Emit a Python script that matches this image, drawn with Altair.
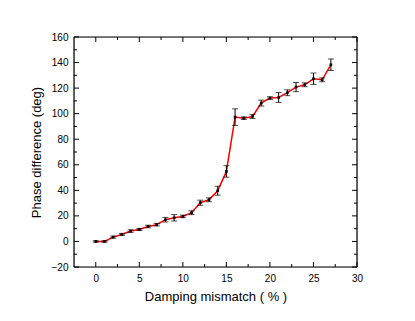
import altair as alt
import pandas as pd

# Data
mismatch = list(range(0, 28))
phase = [0, 0, 3.4, 5.5, 8.1, 9.4, 11.7, 13.1, 17.0, 18.5, 19.6, 22.5, 30.3, 32.6, 39.7, 54.8,
         97.3, 96.5, 97.8, 108.3, 112.2, 112.7, 116.4, 120.8, 122.6, 127.3, 126.5, 138.3]
err = [0.5, 0.5, 0.8, 0.8, 1.0, 0.8, 1.0, 1.0, 1.8, 2.5, 1.0, 1.5, 2.0, 1.5, 3.5, 4.5,
       6.5, 1.0, 1.5, 2.3, 1.0, 3.9, 2.3, 3.6, 1.5, 4.5, 1.5, 4.5]

x_major = [0, 5, 10, 15, 20, 25, 30]
x_minor = [2.5, 7.5, 12.5, 17.5, 22.5, 27.5]
y_major = [-20, 0, 20, 40, 60, 80, 100, 120, 140, 160]
y_minor = [-10, 10, 30, 50, 70, 90, 110, 130, 150]

W, H = 283, 230
FONT = "Liberation Sans"

df = pd.DataFrame({"x": mismatch, "y": phase, "e": err})
df["lo"] = df["y"] - df["e"]
df["hi"] = df["y"] + df["e"]

xs = alt.Scale(domain=[-2.5, 30], nice=False, zero=False)
ys = alt.Scale(domain=[-20, 160], nice=False, zero=False)

common = dict(tickSize=0, domain=False, grid=False, labelFontSize=10, labelPadding=6,
              titleFontSize=13, titleFontWeight="normal", labelFont=FONT, titleFont=FONT,
              labelColor="black", titleColor="black", labelOverlap=False, labelFlush=False)
xaxis = alt.Axis(values=x_major, title="Damping mismatch ( % )", titlePadding=7, **common)
yaxis = alt.Axis(values=y_major, title="Phase difference (deg)", titlePadding=8, **common)


def X(f):
    return alt.X(f, scale=xs, axis=xaxis)


def Y(f):
    return alt.Y(f, scale=ys, axis=yaxis)


base = alt.Chart(df)

line = base.mark_line(color="red", strokeWidth=1.5).encode(x=X("x:Q"), y=Y("y:Q"))
bars = base.mark_rule(color="black", strokeWidth=1).encode(x=X("x:Q"), y=Y("lo:Q"), y2="hi:Q")
cap_lo = base.mark_tick(color="black", thickness=1, size=6, orient="horizontal").encode(
    x=X("x:Q"), y=Y("lo:Q"))
cap_hi = base.mark_tick(color="black", thickness=1, size=6, orient="horizontal").encode(
    x=X("x:Q"), y=Y("hi:Q"))
pts = base.mark_square(color="black", size=7, opacity=1).encode(x=X("x:Q"), y=Y("y:Q"))


def xticks(vals, length):
    d = alt.Chart(pd.DataFrame({"v": vals}))
    b = d.mark_rule(color="black", strokeWidth=1).encode(
        x=X("v:Q"), y=alt.value(H), y2=alt.value(H - length))
    t = d.mark_rule(color="black", strokeWidth=1).encode(
        x=X("v:Q"), y=alt.value(0), y2=alt.value(length))
    return [b, t]


def yticks(vals, length):
    d = alt.Chart(pd.DataFrame({"v": vals}))
    l = d.mark_rule(color="black", strokeWidth=1).encode(
        y=Y("v:Q"), x=alt.value(0), x2=alt.value(length))
    r = d.mark_rule(color="black", strokeWidth=1).encode(
        y=Y("v:Q"), x=alt.value(W), x2=alt.value(W - length))
    return [l, r]


frame_src = alt.Chart(pd.DataFrame({"k": [0]}))
frame = [
    frame_src.mark_rule(color="black", strokeWidth=1.2).encode(x=alt.value(0), y=alt.value(0), y2=alt.value(H)),
    frame_src.mark_rule(color="black", strokeWidth=1.2).encode(x=alt.value(W), y=alt.value(0), y2=alt.value(H)),
    frame_src.mark_rule(color="black", strokeWidth=1.2).encode(y=alt.value(0), x=alt.value(0), x2=alt.value(W)),
    frame_src.mark_rule(color="black", strokeWidth=1.2).encode(y=alt.value(H), x=alt.value(0), x2=alt.value(W)),
]

layers = [line, bars, cap_lo, cap_hi, pts]
layers += xticks(x_major, 5) + xticks(x_minor, 3) + yticks(y_major, 5) + yticks(y_minor, 3)
layers += frame

chart = alt.layer(*layers).properties(
    width=W, height=H,
    autosize=alt.AutoSizeParams(type="none"),
    padding={"left": 66, "top": 29, "right": 40, "bottom": 45},
).configure_view(strokeWidth=0).configure(background="white")

chart.save("out.html", embed_options={"renderer": "svg", "actions": False})
